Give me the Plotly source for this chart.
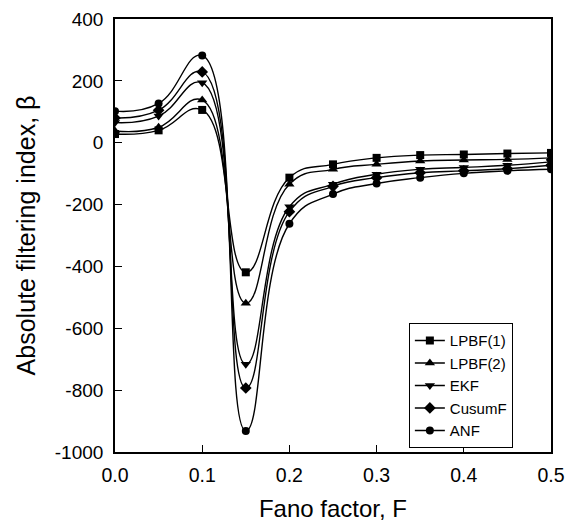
import plotly.graph_objects as go

F = [0.0, 0.05, 0.1, 0.15, 0.2, 0.25, 0.3, 0.35, 0.4, 0.45, 0.5]

lpbf1 = [28, 40, 106, -419, -113, -70, -49, -40, -38, -35, -33]
lpbf2 = [38, 50, 138, -519, -134, -86, -70, -59, -56, -54, -49]
ekf = [65, 86, 194, -716, -207, -134, -102, -86, -80, -73, -62]
cusumf = [80, 105, 229, -793, -223, -141, -113, -97, -91, -84, -73]
anf = [102, 127, 282, -932, -262, -166, -132, -113, -99, -91, -86]

series_names = ["LPBF(1)", "LPBF(2)", "EKF", "CusumF", "ANF"]
series_values = [lpbf1, lpbf2, ekf, cusumf, anf]
symbols = ["square", "triangle-up", "triangle-down", "diamond", "circle"]
sizes = [8, 9, 9, 9, 8]

x_ticks = [0.0, 0.1, 0.2, 0.3, 0.4, 0.5]
x_ticktext = ["0.0", "0.1", "0.2", "0.3", "0.4", "0.5"]
y_ticks = [-1000, -800, -600, -400, -200, 0, 200, 400]
y_ticktext = ["-1000", "-800", "-600", "-400", "-200", "0", "200", "400"]

FONT = "Arial, Liberation Sans, sans-serif"

fig = go.Figure()
for name, vals, sym, sz in zip(series_names, series_values, symbols, sizes):
    fig.add_trace(go.Scatter(
        x=F, y=vals, name=name, mode="lines+markers",
        line=dict(color="black", width=1.4, shape="spline", smoothing=1.3),
        marker=dict(symbol=sym, size=sz, color="black"),
    ))

fig.update_layout(
    width=581, height=527,
    margin=dict(l=107, r=38, t=11, b=83, autoexpand=False),
    paper_bgcolor="white", plot_bgcolor="white",
    font=dict(family=FONT, size=19, color="black"),
    showlegend=True,
    legend=dict(
        x=0.674, y=0.2975, xanchor="left", yanchor="top",
        bordercolor="black", borderwidth=1, bgcolor="white",
        font=dict(family=FONT, size=15, color="black"),
        tracegroupgap=0, itemwidth=30,
    ),
    xaxis=dict(
        range=[0, 0.5], tickvals=x_ticks, ticktext=x_ticktext,
        ticks="inside", ticklen=7, tickwidth=1, tickcolor="black",
        showline=True, linecolor="black", linewidth=1.6, mirror=True,
        showgrid=False, zeroline=False,
        title=dict(text="Fano factor, F", font=dict(family=FONT, size=24), standoff=15),
        tickfont=dict(family=FONT, size=19.5),
        ticklabelstandoff=5, ticklabeloverflow="allow",
    ),
    yaxis=dict(
        range=[-1000, 400], tickvals=y_ticks, ticktext=y_ticktext,
        ticks="inside", ticklen=7, tickwidth=1, tickcolor="black",
        showline=True, linecolor="black", linewidth=1.6, mirror=True,
        showgrid=False, zeroline=False,
        title=dict(text="Absolute filtering index, β", font=dict(family=FONT, size=25), standoff=12),
        tickfont=dict(family=FONT, size=19),
        ticklabelstandoff=6, ticklabeloverflow="allow",
    ),
)

fig.write_html("out.html")
